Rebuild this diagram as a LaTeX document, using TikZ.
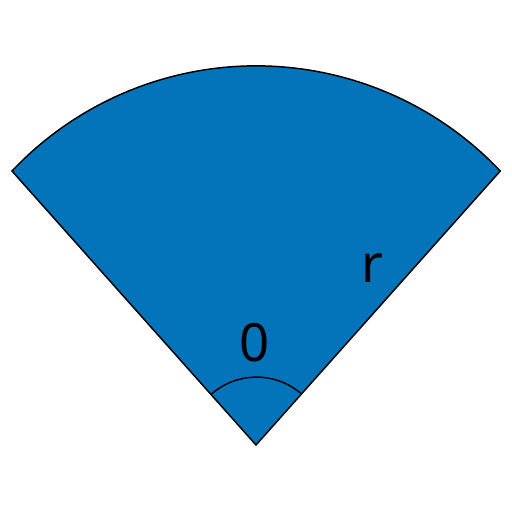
\documentclass[tikz,border=0pt]{standalone}
\usepackage{fontspec}
\setmainfont{Noto Sans}
\definecolor{secblue}{RGB}{4,116,186}
\begin{document}
\begin{tikzpicture}[x=0.02cm,y=-0.02cm,
  edge/.style={draw=black,line width=0.85pt,line join=miter},
  lbl/.style={font=\fontsize{30}{36}\selectfont,inner sep=0pt}]
\useasboundingbox (0,0) rectangle (512,512);
\coordinate (apex) at (256,445);
\coordinate (L) at (12,171);
\coordinate (R) at (500,171);
\filldraw[edge,fill=secblue] (apex) -- (L) arc[start angle=136.6,end angle=43.4,radius=336*0.02cm] -- cycle;
\coordinate (aL) at (211.5,394);
\draw[edge] (aL) arc[start angle=131.1,end angle=48.9,radius=68.5*0.02cm];
\node[lbl] (theta) at (255,343) {0};
\node[lbl] (r) at (372,268) {r};
\end{tikzpicture}
\end{document}
